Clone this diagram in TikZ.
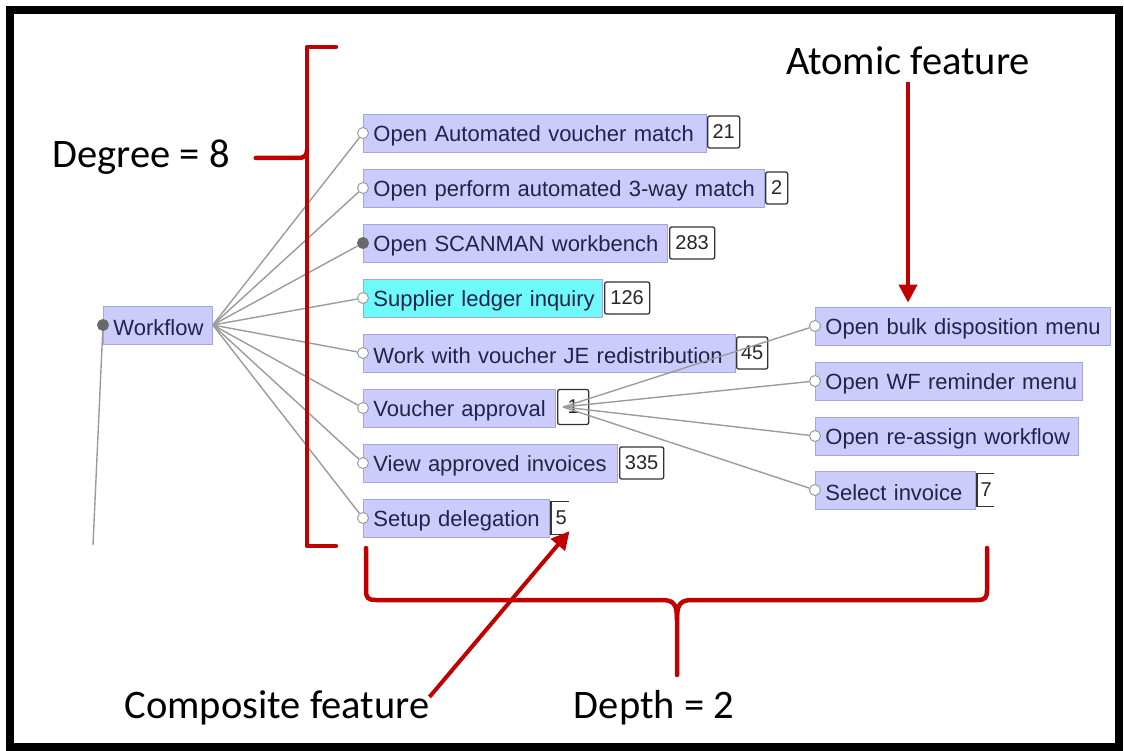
\documentclass[tikz,border=0pt]{standalone}
\usepackage{fontspec}
\setmainfont{Liberation Sans}
\newfontfamily\annfont{Carlito}
\usetikzlibrary{arrows.meta}

\definecolor{boxfill}{RGB}{204,204,252}
\definecolor{boxline}{RGB}{165,165,225}
\definecolor{selfill}{RGB}{110,250,250}
\definecolor{nodetext}{RGB}{35,35,70}
\definecolor{edgegrey}{RGB}{155,155,155}
\definecolor{annred}{RGB}{192,0,0}
\definecolor{knob}{RGB}{105,105,105}

% label set on one line, a little below the box centre
\newcommand\sunk[1]{\raisebox{-2.5pt}[\height][\depth]{#1}}

\begin{document}
\begin{tikzpicture}[x=1pt,y=-1pt,
  feat/.style={draw=boxline, fill=boxfill, line width=0.8pt, anchor=west,
    minimum height=38pt, inner xsep=10pt, inner ysep=0pt, text=nodetext,
    font=\fontsize{22}{25}\selectfont, align=left},
  count/.style={draw=black!80, fill=white, rounded corners=2pt, line width=1.3pt,
    anchor=west, minimum height=32pt, inner xsep=2pt, inner ysep=0pt,
    font=\fontsize{20}{22}\selectfont, text=black!85},
  opencount/.style={anchor=west, minimum height=32pt, inner xsep=2pt, inner ysep=0pt,
    font=\fontsize{20}{22}\selectfont, text=black!85},
  halfbox/.style={draw=black!80, line width=1.3pt},
  port/.style={circle, draw=edgegrey, fill=white, line width=1pt,
    minimum size=11pt, inner sep=0pt},
  portfull/.style={port, fill=knob, draw=knob},
  edge/.style={draw=edgegrey, line width=1.4pt},
  ann/.style={font=\annfont\fontsize{40.5}{48}\selectfont, text=black,
    inner sep=0pt, anchor=base},
  bracket/.style={draw=annred, line width=4.5pt, line cap=round, line join=round},
  pointer/.style={draw=annred, line width=4pt, -{Triangle[length=18pt,width=18pt]}}
]
\useasboundingbox (0,0) rectangle (1124,751);

% frame
\draw[line width=8pt] (10,10) rectangle (1119,747);

% root
\node[feat, text width=89pt] (wf) at (103,325) {\sunk{Workflow}};

% first level features
\node[feat, text width=323pt] (f1) at (363,133) {\sunk{Open Automated voucher match}};
\node[feat, text width=381pt] (f2) at (363,188) {\sunk{Open perform automated 3-way match}};
\node[feat, text width=284pt] (f3) at (363,243) {\sunk{Open SCANMAN workbench}};
\node[feat, text width=219pt, fill=selfill] (f4) at (363,298) {\sunk{Supplier ledger inquiry}};
\node[feat, text width=352pt] (f5) at (363,353) {\sunk{Work with voucher JE redistribution}};
\node[feat, text width=172pt] (f6) at (363,408) {\sunk{Voucher approval}};
\node[feat, text width=234pt] (f7) at (363,463) {\sunk{View approved invoices}};
\node[feat, text width=166pt] (f8) at (363,518) {\sunk{Setup delegation}};

% second level features
\node[feat, text width=275pt] (g1) at (815,326) {\sunk{Open bulk disposition menu}};
\node[feat, text width=247pt] (g2) at (815,381) {\sunk{Open WF reminder menu}};
\node[feat, text width=243pt] (g3) at (815,436) {\sunk{Open re-assign workflow}};
\node[feat, text width=140pt] (g4) at (815,490) {\sunk{Select invoice}};

% usage counts
\node[count, minimum width=32pt] (c1) at (707,132) {21};
\node[count, minimum width=22pt] (c2) at (765,188) {2};
\node[count, minimum width=45pt] (c3) at (669,243) {283};
\node[count, minimum width=45pt] (c4) at (604,298) {126};
\node[count, minimum width=31pt] (c5) at (736,353) {45};
\node[count, minimum width=31pt, minimum height=35pt] (c6) at (557,407) {1};
\node[count, minimum width=44pt] (c7) at (619,463) {335};
\node[opencount, minimum width=20pt] (c8) at (551,518) {5};
\node[opencount, minimum width=18pt] (c9) at (977,490) {7};
\draw[halfbox] ([xshift=18pt]c8.north west) -- (c8.north west) -- (c8.south west) -- ([xshift=18pt]c8.south west);
\draw[halfbox] ([xshift=17pt]c9.north west) -- (c9.north west) -- (c9.south west) -- ([xshift=17pt]c9.south west);

% ports
\node[portfull] (p0) at (wf.west) {};
\node[port] (p1) at (f1.west) {};
\node[port] (p2) at (f2.west) {};
\node[portfull] (p3) at (f3.west) {};
\node[port] (p4) at (f4.west) {};
\node[port] (p5) at (f5.west) {};
\node[port] (p6) at (f6.west) {};
\node[port] (p7) at (f7.west) {};
\node[port] (p8) at (f8.west) {};
\node[port] (q1) at (g1.west) {};
\node[port] (q2) at (g2.west) {};
\node[port] (q3) at (g3.west) {};
\node[port] (q4) at (g4.west) {};

% tree edges
\coordinate (tail) at (93,545);
\draw[edge] (p0) -- (tail);
\foreach \p in {p1,p2,p3,p4,p5,p6,p7,p8}
  \draw[edge] (wf.east) -- (\p);
\coordinate (hub) at ([xshift=6pt]c6.west);
\foreach \q in {q1,q2,q3,q4}
  \draw[edge] (hub) -- (\q);

% annotations
\node[ann] (deg) at (141,168) {Degree = 8};
\node[ann] (atomic) at (908,75) {Atomic feature};
\node[ann] (comp) at (277,718) {Composite feature};
\node[ann] (depth) at (654,718) {Depth = 2};

% degree bracket
\draw[bracket] (336,47) -- (307,47) -- (307,546) -- (336,546);
\draw[bracket] (deg.east |- 0,158) ++(26pt,0) -- (298,158)
  .. controls (305,158) and (307,155) .. (307,150);

% depth brace
\coordinate (brtip) at (677,675);
\draw[bracket] (366,548) -- (366,590) .. controls (366,598) and (368,600) .. (376,600)
  -- (662,600) .. controls (675,600) and (677,606) .. (677,620) -- (brtip);
\draw[bracket] (987,548) -- (987,590) .. controls (987,598) and (985,600) .. (977,600)
  -- (692,600) .. controls (679,600) and (677,606) .. (677,620);

% pointers
\draw[pointer, shorten >=4pt] ([yshift=-7pt]atomic.south) -- (atomic.south |- g1.north);
\draw[pointer] ([yshift=-7pt]comp.north east) -- ([xshift=-2pt,yshift=3pt]c8.south east);
\end{tikzpicture}
\end{document}
